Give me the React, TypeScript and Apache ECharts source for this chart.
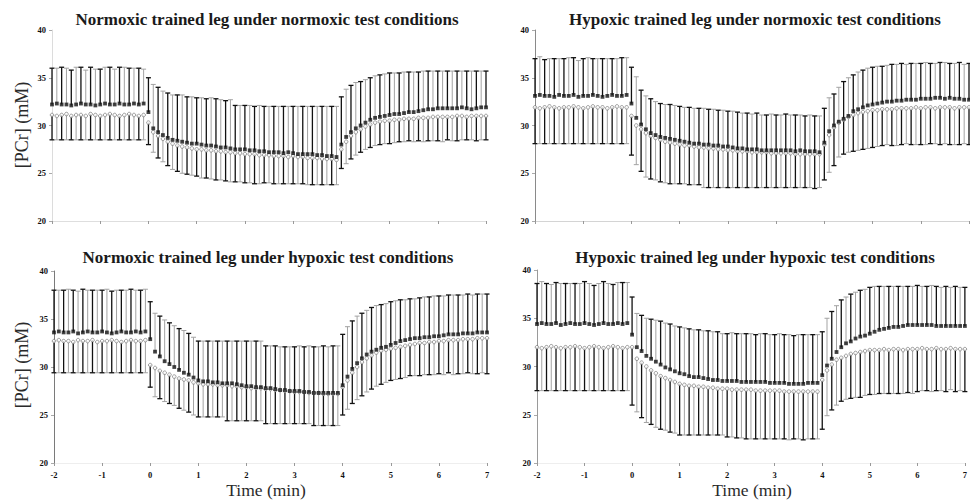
import React, { useEffect, useRef } from "react";
import * as echarts from "echarts";

// Time points (min): -2.0 .. 7.0 every 0.1 min (91 samples)
const TIME: number[] = Array.from({ length: 91 }, (_, i) => Math.round((-2 + 0.1 * i) * 10) / 10);

const TITLES = [
  "Normoxic trained leg under normoxic test conditions",
  "Hypoxic trained leg under normoxic test conditions",
  "Normoxic trained leg under hypoxic test conditions",
  "Hypoxic trained leg under hypoxic test conditions",
];
const Y_TICKS = [20, 25, 30, 35, 40];
const X_TICKS = [-2, -1, 0, 1, 2, 3, 4, 5, 6, 7];
const Y_NAME = "[PCr] (mM)";
const X_NAME = "Time (min)";

// ---------- Panel 1: Normoxic trained leg, normoxic test ----------
const P1_FILLED = [
  32.2,32.3,32.2,32.2,32.1,32.2,32.3,32.2,32.2,32.1,32.2,32.3,32.2,32.2,32.3,32.2,32.2,32.3,32.2,32.3,
  31.4,29.7,29.3,29.0,28.7,28.5,28.4,28.3,28.2,28.1,28.1,28.0,27.9,27.9,27.8,27.7,27.7,27.6,27.5,27.5,
  27.5,27.4,27.4,27.3,27.3,27.2,27.2,27.2,27.1,27.2,27.1,27.0,27.0,27.0,27.0,26.9,26.9,26.8,26.8,26.7,
  28.0,28.8,29.3,29.7,30.0,30.3,30.6,30.8,30.9,31.0,31.1,31.2,31.2,31.3,31.4,31.4,31.5,31.6,31.7,31.7,
  31.8,31.8,31.8,31.8,31.8,31.9,31.8,31.7,31.8,31.9,31.9,
];
const P1_FILLED_SD = [
  3.8,3.7,3.9,3.8,3.7,3.9,3.8,3.6,3.9,3.8,3.7,3.8,3.9,3.7,3.8,3.9,3.8,3.7,3.8,3.6,
  3.6,4.6,4.7,4.6,4.7,4.7,4.8,4.9,4.8,4.9,4.8,4.9,4.9,5.0,5.0,5.0,4.9,5.1,4.6,4.6,
  4.6,4.7,4.6,4.8,4.7,4.8,4.8,4.8,4.9,4.8,4.9,5.0,5.0,5.0,5.0,5.1,5.1,5.2,5.2,5.3,
  5.0,5.0,4.9,4.8,4.6,4.5,4.4,4.4,4.4,4.4,4.4,4.3,4.3,4.3,4.2,4.2,4.1,4.1,4.0,4.0,
  3.9,3.9,3.9,3.9,3.9,3.8,3.9,4.0,3.9,3.8,3.8,
];
const P1_OPEN = [
  31.1,31.0,31.1,31.2,31.0,31.1,31.1,31.0,31.2,31.1,31.0,31.1,31.2,31.1,31.0,31.1,31.2,31.1,31.0,31.1,
  30.3,29.3,28.9,28.6,28.3,28.1,27.9,27.8,27.7,27.6,27.5,27.5,27.4,27.4,27.3,27.3,27.2,27.2,27.1,27.1,
  27.0,27.0,27.0,26.9,26.9,26.9,26.8,26.8,26.8,26.7,26.8,26.7,26.7,26.6,26.6,26.6,26.5,26.5,26.5,26.4,
  27.5,28.3,28.9,29.3,29.6,29.9,30.1,30.3,30.4,30.5,30.5,30.6,30.6,30.7,30.7,30.7,30.8,30.8,30.8,30.9,
  30.9,30.9,30.9,30.9,31.0,31.0,30.9,31.0,31.0,31.0,31.0,
];
const P1_OPEN_SD = [
  2.6,2.5,2.6,2.7,2.5,2.6,2.6,2.5,2.7,2.6,2.5,2.6,2.7,2.6,2.5,2.6,2.7,2.6,2.5,2.6,
  2.3,2.1,2.3,2.4,2.5,2.7,2.7,2.8,2.8,2.8,2.8,3.0,2.9,3.0,3.0,3.0,3.0,3.1,3.0,3.0,
  3.0,3.0,3.1,3.0,2.9,2.9,2.9,2.9,2.9,2.8,2.9,2.8,2.8,2.8,2.8,2.8,2.7,2.7,2.7,2.6,
  2.0,2.3,2.4,2.4,2.4,2.4,2.4,2.4,2.4,2.4,2.4,2.4,2.3,2.4,2.3,2.4,2.4,2.5,2.4,2.5,
  2.5,2.6,2.4,2.5,2.6,2.5,2.4,2.5,2.6,2.5,2.5,
];

// ---------- Panel 2: Hypoxic trained leg, normoxic test ----------
const P2_FILLED = [
  33.1,33.2,33.1,33.1,33.0,33.2,33.1,33.1,33.2,33.0,33.1,33.1,33.2,33.1,33.0,33.1,33.2,33.1,33.1,33.2,
  32.3,30.8,30.1,29.6,29.2,29.0,28.8,28.7,28.6,28.5,28.4,28.3,28.2,28.1,28.1,28.0,28.0,27.9,27.9,27.8,
  27.8,27.7,27.6,27.6,27.5,27.5,27.5,27.4,27.4,27.4,27.4,27.4,27.4,27.4,27.3,27.4,27.3,27.3,27.3,27.2,
  28.2,29.4,30.0,30.4,30.7,31.0,31.5,31.7,31.9,32.1,32.2,32.3,32.4,32.5,32.5,32.6,32.6,32.7,32.7,32.7,
  32.8,32.8,32.8,32.9,32.9,32.8,32.9,32.8,32.8,32.7,32.7,
];
const P2_FILLED_SD = [
  3.9,4.0,3.8,3.9,4.0,3.8,3.9,4.0,3.9,3.8,3.9,4.0,3.8,3.9,4.0,3.9,3.8,3.9,4.0,3.9,
  3.8,4.3,3.6,3.5,3.6,3.5,3.5,3.5,3.6,3.6,3.6,3.6,3.7,3.7,3.7,3.8,3.7,3.8,3.7,3.8,
  3.7,3.8,3.8,3.7,3.8,3.7,3.8,3.7,3.7,3.8,3.7,3.7,3.8,3.7,3.8,3.7,3.7,3.8,3.7,3.8,
  3.6,3.5,3.3,3.6,3.9,4.0,3.8,3.9,3.9,3.9,3.9,3.9,3.8,3.8,3.9,3.8,3.9,3.7,3.8,3.8,
  3.7,3.8,3.7,3.6,3.7,3.8,3.6,3.7,3.8,3.7,3.8,
];
const P2_OPEN = [
  31.9,31.8,31.9,32.0,31.9,31.8,31.9,31.9,32.0,31.9,31.8,31.9,32.0,31.9,31.9,31.8,31.9,32.0,31.9,31.9,
  31.0,30.0,29.6,29.2,28.9,28.7,28.5,28.3,28.2,28.1,28.0,27.9,27.9,27.8,27.7,27.7,27.6,27.6,27.5,27.5,
  27.4,27.4,27.3,27.3,27.3,27.2,27.2,27.2,27.2,27.1,27.1,27.1,27.1,27.1,27.0,27.0,27.0,27.0,27.0,27.0,
  28.0,29.0,29.8,30.3,30.6,30.9,31.1,31.3,31.4,31.5,31.6,31.6,31.7,31.7,31.7,31.8,31.8,31.8,31.8,31.9,
  31.8,31.9,31.9,31.8,31.9,31.9,31.9,31.8,31.9,31.9,31.9,
];
const P2_OPEN_SD = [
  3.8,3.7,3.8,3.9,3.8,3.7,3.8,3.8,3.9,3.8,3.7,3.8,3.9,3.8,3.8,3.7,3.8,3.9,3.8,3.8,
  4.1,4.1,4.4,4.6,4.5,4.4,4.4,4.3,4.3,4.2,4.1,4.0,4.1,4.0,3.9,4.2,4.1,4.1,4.0,4.0,
  3.9,3.9,3.8,3.8,3.8,3.7,3.7,3.7,3.7,3.6,3.6,3.6,3.6,3.6,3.5,3.5,3.5,3.5,3.6,3.5,
  3.7,3.9,4.0,3.6,3.6,3.7,3.8,3.9,3.9,3.9,3.9,3.8,3.8,3.7,3.8,3.9,3.8,3.7,3.8,3.9,
  3.8,3.9,3.8,3.7,3.9,3.8,3.9,3.8,3.9,3.8,3.9,
];

// ---------- Panel 3: Normoxic trained leg, hypoxic test ----------
const P3_FILLED = [
  33.6,33.7,33.6,33.6,33.7,33.5,33.6,33.7,33.6,33.6,33.7,33.6,33.5,33.6,33.7,33.6,33.6,33.7,33.6,33.7,
  32.9,31.6,31.1,30.6,30.3,30.0,29.7,29.4,29.2,28.9,28.6,28.5,28.5,28.4,28.4,28.3,28.3,28.3,28.2,28.1,
  28.0,28.0,27.9,27.9,27.8,27.8,27.7,27.6,27.6,27.5,27.5,27.5,27.4,27.4,27.3,27.3,27.3,27.3,27.3,27.3,
  28.1,29.0,29.8,30.4,30.9,31.3,31.6,31.8,32.0,32.1,32.3,32.5,32.7,32.8,32.9,33.0,33.0,33.1,33.1,33.2,
  33.2,33.3,33.4,33.4,33.4,33.5,33.5,33.5,33.6,33.6,33.6,
];
const P3_FILLED_SD = [
  4.4,4.3,4.4,4.5,4.3,4.4,4.5,4.3,4.4,4.4,4.3,4.5,4.4,4.4,4.3,4.4,4.5,4.3,4.4,4.4,
  3.9,4.0,4.2,4.3,4.3,4.3,4.3,4.4,4.3,4.2,4.1,4.2,4.2,4.3,4.3,4.4,4.4,4.4,4.5,4.6,
  4.7,4.7,4.8,4.8,4.4,4.4,4.5,4.5,4.5,4.6,4.6,4.7,4.7,4.8,4.8,4.8,4.9,4.8,4.9,4.9,
  5.3,5.2,5.0,4.9,4.7,4.6,4.6,4.6,4.5,4.5,4.5,4.4,4.3,4.2,4.2,4.1,4.2,4.2,4.2,4.2,
  4.2,4.1,4.1,4.1,4.1,4.0,4.1,4.0,4.0,4.0,4.0,
];
const P3_OPEN = [
  32.7,32.8,32.7,32.7,32.6,32.8,32.7,32.7,32.8,32.6,32.7,32.7,32.8,32.7,32.6,32.7,32.8,32.7,32.7,32.8,
  30.2,29.9,29.6,29.4,29.2,29.0,28.8,28.7,28.6,28.4,28.3,28.2,28.2,28.2,28.1,28.1,28.1,28.0,28.0,27.9,
  27.9,27.8,27.8,27.8,27.7,27.7,27.6,27.6,27.5,27.5,27.4,27.4,27.4,27.3,27.3,27.3,27.2,27.2,27.2,27.2,
  27.9,28.6,29.4,30.0,30.5,30.9,31.2,31.5,31.7,31.8,31.9,32.0,32.1,32.2,32.3,32.4,32.5,32.5,32.6,32.6,
  32.7,32.7,32.8,32.8,32.8,32.9,32.9,32.9,33.0,33.0,33.0,
];
const P3_OPEN_SD = [
  3.3,3.4,3.3,3.3,3.2,3.4,3.3,3.3,3.4,3.2,3.3,3.3,3.4,3.3,3.2,3.3,3.4,3.3,3.3,3.4,
  2.3,3.0,2.9,3.0,3.0,3.0,3.1,3.2,3.3,3.4,3.5,3.4,3.4,3.4,3.3,3.3,3.7,3.6,3.6,3.5,
  3.5,3.4,3.4,3.4,3.6,3.6,3.5,3.5,3.4,3.4,3.3,3.3,3.3,3.2,3.4,3.4,3.3,3.3,3.3,3.3,
  2.9,3.0,3.2,3.4,3.5,3.5,3.5,3.5,3.5,3.4,3.3,3.3,3.3,3.3,3.2,3.3,3.4,3.3,3.4,3.4,
  3.4,3.5,3.4,3.6,3.5,3.6,3.5,3.6,3.7,3.6,3.7,
];

// ---------- Panel 4: Hypoxic trained leg, hypoxic test ----------
const P4_FILLED = [
  34.4,34.5,34.4,34.4,34.5,34.3,34.4,34.5,34.4,34.4,34.5,34.4,34.3,34.4,34.5,34.4,34.4,34.5,34.4,34.5,
  33.3,32.0,31.6,31.1,30.8,30.5,30.2,29.9,29.7,29.5,29.3,29.2,29.0,28.9,28.9,28.8,28.7,28.6,28.6,28.5,
  28.5,28.5,28.5,28.4,28.4,28.4,28.4,28.4,28.4,28.3,28.3,28.3,28.3,28.2,28.2,28.2,28.2,28.3,28.3,28.3,
  29.1,30.1,30.8,31.5,32.0,32.4,32.6,32.9,33.1,33.2,33.4,33.6,33.8,33.9,34.0,34.1,34.1,34.2,34.3,34.3,
  34.3,34.3,34.3,34.3,34.2,34.2,34.2,34.2,34.2,34.2,34.2,
];
const P4_FILLED_SD = [
  4.2,4.3,4.2,4.1,4.2,4.3,4.2,4.1,4.2,4.2,4.3,4.2,4.1,4.2,4.3,4.2,4.1,4.2,4.3,4.2,
  3.9,3.5,3.7,3.9,4.1,4.3,4.5,4.6,4.7,4.7,4.8,4.8,4.9,4.9,4.9,4.9,5.0,5.0,5.0,4.9,
  4.9,5.0,4.9,5.0,5.0,5.0,4.9,5.0,5.0,5.0,5.0,5.1,5.0,5.1,5.0,5.1,5.1,5.0,5.0,5.0,
  4.5,4.9,4.9,4.8,4.9,4.8,4.9,4.8,4.8,4.8,4.8,4.7,4.5,4.4,4.3,4.2,4.2,4.1,4.0,4.0,
  4.1,4.0,4.0,4.1,4.1,4.0,4.1,4.0,4.1,4.0,4.0,
];
const P4_OPEN = [
  32.0,31.9,32.0,32.1,32.0,31.9,32.0,32.0,32.1,32.0,31.9,32.0,32.1,32.0,31.9,32.0,32.1,32.0,31.9,32.0,
  32.0,30.8,30.4,30.0,29.6,29.3,29.0,28.8,28.6,28.4,28.2,28.1,28.0,28.0,27.9,27.9,27.8,27.8,27.7,27.7,
  27.7,27.6,27.6,27.6,27.6,27.6,27.5,27.5,27.5,27.5,27.5,27.5,27.4,27.4,27.4,27.4,27.4,27.4,27.4,27.4,
  28.6,29.6,30.2,30.7,30.9,31.1,31.3,31.4,31.5,31.6,31.7,31.7,31.7,31.8,31.7,31.8,31.8,31.7,31.8,31.8,
  31.8,31.9,31.8,31.8,31.9,31.8,31.8,31.9,31.8,31.8,31.8,
];
const P4_OPEN_SD = [
  4.5,4.4,4.5,4.6,4.5,4.4,4.5,4.5,4.6,4.5,4.4,4.5,4.6,4.5,4.4,4.5,4.6,4.5,4.4,4.5,
  6.0,5.5,5.7,5.8,5.6,5.6,5.5,5.4,5.4,5.3,5.3,5.2,5.1,5.1,5.0,5.0,4.9,4.9,4.8,4.8,
  5.0,4.9,5.0,5.0,5.1,5.1,5.0,5.0,5.0,5.0,5.0,5.0,4.9,5.0,4.9,4.9,5.0,4.9,4.9,4.9,
  5.1,4.7,4.7,4.7,4.5,4.5,4.6,4.6,4.7,4.6,4.6,4.6,4.5,4.6,4.5,4.6,4.6,4.5,4.5,4.6,
  4.4,4.4,4.3,4.4,4.4,4.3,4.4,4.3,4.4,4.3,4.4,
];

const PANELS = [
  { filled: P1_FILLED, filledSd: P1_FILLED_SD, open: P1_OPEN, openSd: P1_OPEN_SD },
  { filled: P2_FILLED, filledSd: P2_FILLED_SD, open: P2_OPEN, openSd: P2_OPEN_SD },
  { filled: P3_FILLED, filledSd: P3_FILLED_SD, open: P3_OPEN, openSd: P3_OPEN_SD },
  { filled: P4_FILLED, filledSd: P4_FILLED_SD, open: P4_OPEN, openSd: P4_OPEN_SD },
];

// Layout (pixels) — styling only
const GRIDS = [
  { left: 52, top: 30, width: 434, height: 191 },
  { left: 535, top: 30, width: 434, height: 191 },
  { left: 54, top: 271, width: 433, height: 192 },
  { left: 537, top: 270, width: 433, height: 193 },
];
const Y_AXIS_COLORS = ["#dcdcdc", "#8a8a8a", "#7a7a7a", "#9a9a9a"];
const X_AXIS_COLORS = ["#dedede", "#d4d4d4", "#eeeeee", "#eeeeee"];
const TITLE_POS = [
  [267, 19],
  [755, 19],
  [268, 257],
  [755, 257],
];
const SERIF = '"Liberation Serif", "DejaVu Serif", serif';

function makeBarRenderer(dir: number) {
  return (params: any, api: any) => {
    const x = api.value(0);
    const m = api.value(1);
    const s = api.value(2);
    const a = api.coord([x, m]);
    const b = api.coord([x, m + dir * s]);
    const dark = params.dataIndex % 2 === 0;
    const col = dark ? "#111111" : "#a3a3a3";
    const lw = dark ? 1.3 : 1;
    return {
      type: "group",
      children: [
        { type: "line", shape: { x1: a[0], y1: a[1], x2: b[0], y2: b[1] }, style: { stroke: col, lineWidth: lw } },
        { type: "line", shape: { x1: b[0] - 2.5, y1: b[1], x2: b[0] + 2.5, y2: b[1] }, style: { stroke: col, lineWidth: lw } },
      ],
    };
  };
}

export default function App() {
  const ref = useRef<HTMLDivElement>(null);
  useEffect(() => {
    document.body.style.margin = "0";
    if (!ref.current) return;
    const chart = echarts.init(ref.current, undefined, { renderer: "svg" });

    const xAxis = GRIDS.map((_, i) => ({
      type: "value",
      gridIndex: i,
      min: X_TICKS[0],
      max: X_TICKS[X_TICKS.length - 1],
      interval: 1,
      axisLine: { show: true, onZero: false, lineStyle: { color: X_AXIS_COLORS[i], width: 1 } },
      axisTick: { show: true, length: 3, lineStyle: { color: "#999" } },
      axisLabel: {
        show: i >= 2,
        fontFamily: SERIF,
        fontWeight: "bold",
        fontSize: 8.5,
        color: "#111",
        margin: 7,
      },
      splitLine: { show: false },
    }));
    const yAxis = GRIDS.map((_, i) => ({
      type: "value",
      gridIndex: i,
      min: Y_TICKS[0],
      max: Y_TICKS[Y_TICKS.length - 1],
      interval: 5,
      axisLine: { show: true, onZero: false, lineStyle: { color: Y_AXIS_COLORS[i], width: 1 } },
      axisTick: { show: true, length: 3, lineStyle: { color: "#aaa" } },
      axisLabel: {
        fontFamily: SERIF,
        fontWeight: "bold",
        fontSize: 8.5,
        color: "#111",
        margin: 6,
      },
      splitLine: { show: false },
    }));

    const series: any[] = [];
    PANELS.forEach((p, i) => {
      series.push({
        type: "custom",
        xAxisIndex: i,
        yAxisIndex: i,
        renderItem: makeBarRenderer(1),
        data: TIME.map((t, k) => [t, p.filled[k], p.filledSd[k]]),
        silent: true,
        z: 1,
      });
      series.push({
        type: "custom",
        xAxisIndex: i,
        yAxisIndex: i,
        renderItem: makeBarRenderer(-1),
        data: TIME.map((t, k) => [t, p.open[k], p.openSd[k]]),
        silent: true,
        z: 1,
      });
      series.push({
        type: "scatter",
        xAxisIndex: i,
        yAxisIndex: i,
        symbol: "circle",
        symbolSize: 3.6,
        itemStyle: { color: "#ffffff", borderColor: "#555", borderWidth: 0.7 },
        data: TIME.map((t, k) => [t, p.open[k]]),
        silent: true,
        z: 3,
      });
      series.push({
        type: "scatter",
        xAxisIndex: i,
        yAxisIndex: i,
        symbol: "rect",
        symbolSize: 3.8,
        itemStyle: { color: "#111" },
        data: TIME.map((t, k) => [t, p.filled[k]]),
        silent: true,
        z: 4,
      });
    });

    const graphic: any[] = [];
    TITLES.forEach((t, i) => {
      graphic.push({
        type: "text",
        x: TITLE_POS[i][0],
        y: TITLE_POS[i][1],
        style: {
          text: t,
          font: `bold 17px ${SERIF}`,
          fill: "#1a1a1a",
          align: "center",
          verticalAlign: "middle",
          textAlign: "center",
          textVerticalAlign: "middle",
        },
      });
    });
    [125, 365].forEach((y) => {
      graphic.push({
        type: "text",
        x: 22,
        y,
        rotation: Math.PI / 2,
        style: {
          text: Y_NAME,
          font: `18px ${SERIF}`,
          fill: "#2a2a2a",
          align: "center",
          verticalAlign: "middle",
          textAlign: "center",
          textVerticalAlign: "middle",
        },
      });
    });
    [266, 752].forEach((x) => {
      graphic.push({
        type: "text",
        x,
        y: 490,
        style: {
          text: X_NAME,
          font: `17.5px ${SERIF}`,
          fill: "#2a2a2a",
          align: "center",
          verticalAlign: "middle",
          textAlign: "center",
          textVerticalAlign: "middle",
        },
      });
    });

    chart.setOption({
      animation: false,
      backgroundColor: "#ffffff",
      grid: GRIDS.map((g) => ({ ...g, containLabel: false })),
      xAxis,
      yAxis,
      series,
      graphic,
    });
    return () => chart.dispose();
  }, []);
  return <div ref={ref} style={{ width: 970, height: 504 }} />;
}
